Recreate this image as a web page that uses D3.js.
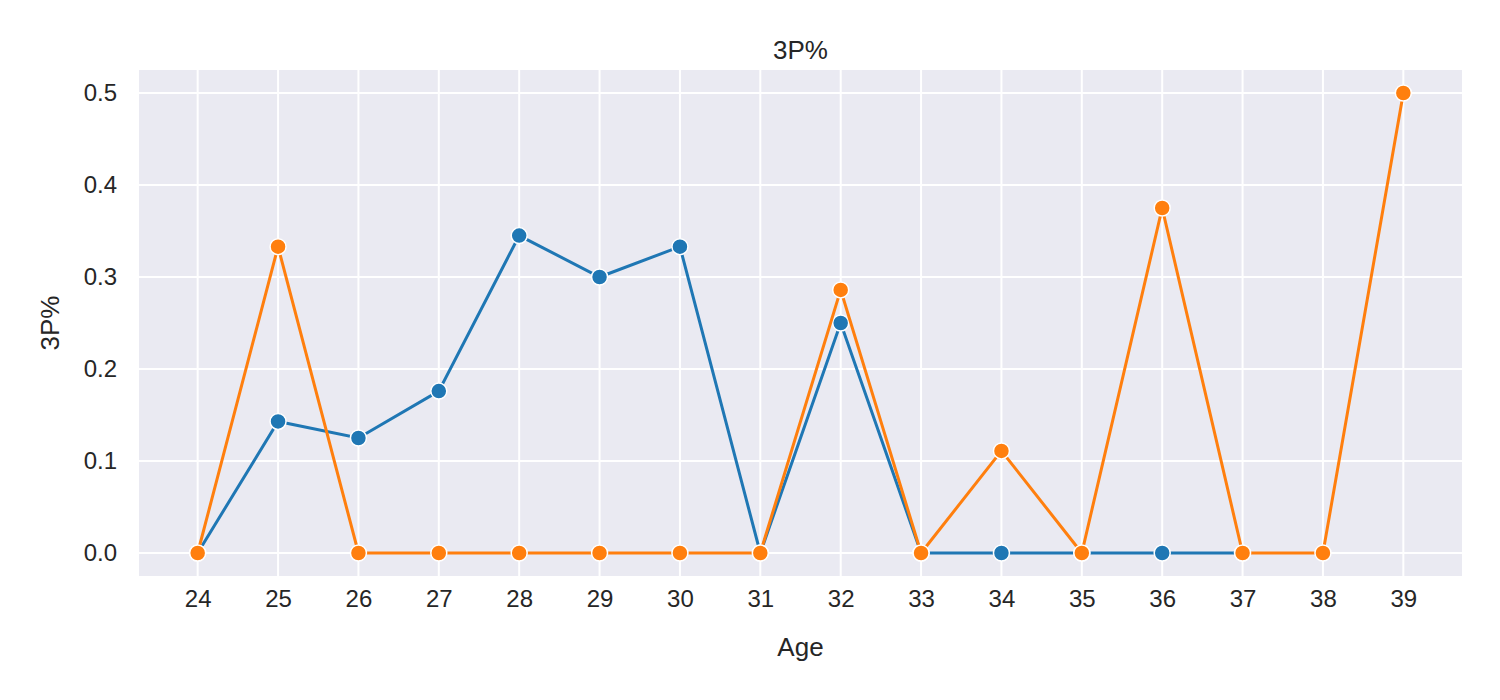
<!DOCTYPE html>
<html>
<head>
<meta charset="utf-8">
<script src="https://cdn.jsdelivr.net/npm/d3@7"></script>
<style>
body { margin: 0; background: #fff; }
text { font-family: "Liberation Sans", Arial, sans-serif; fill: #262626; }
</style>
</head>
<body>
<svg width="1500" height="700"></svg>
<script>
var ages = [24, 25, 26, 27, 28, 29, 30, 31, 32, 33, 34, 35, 36, 37, 38, 39];
var blueAges = [24, 25, 26, 27, 28, 29, 30, 31, 32, 33, 34, 35, 36, 37];
var blueValues = [0, 0.143, 0.125, 0.176, 0.345, 0.3, 0.333, 0, 0.25, 0, 0, 0, 0, 0];
var orangeAges = [24, 25, 26, 27, 28, 29, 30, 31, 32, 33, 34, 35, 36, 37, 38, 39];
var orangeValues = [0, 0.333, 0, 0, 0, 0, 0, 0, 0.286, 0, 0.111, 0, 0.375, 0, 0, 0.5];
var yTicks = [0, 0.1, 0.2, 0.3, 0.4, 0.5];

var svg = d3.select("svg"),
    margin = { top: 70, right: 38, bottom: 124, left: 139 },
    width = 1500 - margin.left - margin.right,
    height = 700 - margin.top - margin.bottom;

var x = d3.scaleLinear().domain([23.27, 39.73]).range([0, width]);
var y = d3.scaleLinear().domain([-0.025, 0.525]).range([height, 0]);

var g = svg.append("g").attr("transform", "translate(" + margin.left + "," + margin.top + ")");

g.append("rect").attr("width", width).attr("height", height).attr("fill", "#eaeaf2");

// grid
g.selectAll(".vg").data(ages).enter().append("line")
    .attr("x1", d => x(d)).attr("x2", d => x(d)).attr("y1", 0).attr("y2", height)
    .attr("stroke", "#fff").attr("stroke-width", 2);
g.selectAll(".hg").data(yTicks).enter().append("line")
    .attr("x1", 0).attr("x2", width).attr("y1", d => y(d)).attr("y2", d => y(d))
    .attr("stroke", "#fff").attr("stroke-width", 2);

// axes
var xAxis = g.append("g").attr("transform", "translate(0," + height + ")")
    .call(d3.axisBottom(x).tickValues(ages).tickSize(0).tickPadding(14).tickFormat(d3.format("d")));
var yAxis = g.append("g")
    .call(d3.axisLeft(y).tickValues(yTicks).tickSize(0).tickPadding(22).tickFormat(d3.format(".1f")));
[xAxis, yAxis].forEach(a => {
    a.select(".domain").remove();
    a.selectAll("text").attr("font-size", 24).style("font-family", "Liberation Sans, Arial, sans-serif").attr("fill", "#262626");
});

function drawSeries(xs, vs, color) {
    var pts = xs.map((a, i) => [a, vs[i]]);
    g.append("path").datum(pts)
        .attr("fill", "none").attr("stroke", color).attr("stroke-width", 3)
        .attr("d", d3.line().x(d => x(d[0])).y(d => y(d[1])));
    g.selectAll(null).data(pts).enter().append("circle")
        .attr("cx", d => x(d[0])).attr("cy", d => y(d[1])).attr("r", 8)
        .attr("fill", color).attr("stroke", "#fff").attr("stroke-width", 1.5);
}
drawSeries(blueAges, blueValues, "#1f77b4");
drawSeries(orangeAges, orangeValues, "#ff7f0e");

svg.append("text").attr("x", margin.left + width / 2).attr("y", 59)
    .attr("text-anchor", "middle").attr("font-size", 26).text("3P%");
svg.append("text").attr("x", margin.left + width / 2).attr("y", 656)
    .attr("text-anchor", "middle").attr("font-size", 26).text("Age");
svg.append("text").attr("transform", "translate(59," + (margin.top + height / 2) + ") rotate(-90)")
    .attr("text-anchor", "middle").attr("font-size", 26).text("3P%");
</script>
</body>
</html>
